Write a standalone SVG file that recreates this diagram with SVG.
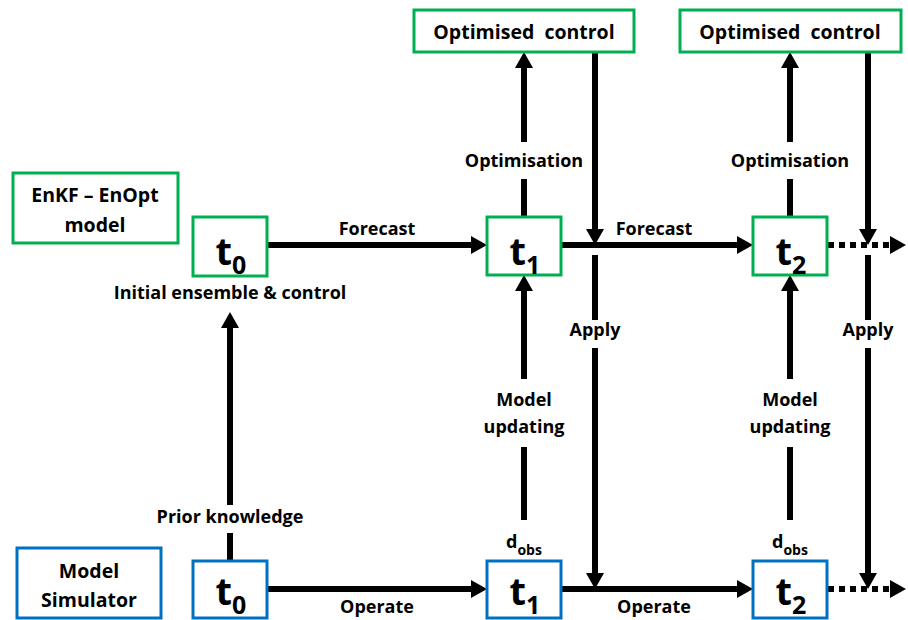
<svg xmlns="http://www.w3.org/2000/svg" width="908" height="620" viewBox="0 0 908 620">
<defs>
<marker id="ah" viewBox="0 -9 16 18" refX="0" refY="0" markerWidth="16" markerHeight="18" markerUnits="userSpaceOnUse" orient="auto">
<path d="M0,-9 L16,0 L0,9 z" fill="#000"/>
</marker>
</defs>
<style>
text{font-family:"Open Sans","Liberation Sans",sans-serif;font-weight:bold;fill:#000;text-anchor:middle}
.g{fill:#fff;stroke:#00B050;stroke-width:3}
.b{fill:#fff;stroke:#0070C0;stroke-width:3}
.h{font-size:19.5px}
.l{font-size:18px}
.t{font-size:38px}
.s{font-size:25px}
.ss{font-size:14px}
.c line{stroke:#000;stroke-width:6}
.a{marker-end:url(#ah)}
.d{stroke-dasharray:6 5}
</style>
<rect width="908" height="620" fill="#fff"/>
<g class="c" id="connectors">
<line class="a" x1="267" y1="245" x2="471" y2="245"/>
<line class="a" x1="561" y1="245" x2="737" y2="245"/>
<line class="a d" x1="828" y1="245" x2="890" y2="245"/>
<line class="a" x1="267" y1="589" x2="471" y2="589"/>
<line class="a" x1="561" y1="589" x2="737" y2="589"/>
<line class="a d" x1="828" y1="589" x2="890" y2="589"/>
<line x1="524" y1="217" x2="524" y2="179"/>
<line class="a" x1="524" y1="142" x2="524" y2="68"/>
<line x1="790" y1="217" x2="790" y2="179"/>
<line class="a" x1="790" y1="142" x2="790" y2="68"/>
<line x1="524" y1="520" x2="524" y2="447"/>
<line class="a" x1="524" y1="379" x2="524" y2="291"/>
<line x1="790" y1="520" x2="790" y2="447"/>
<line class="a" x1="790" y1="379" x2="790" y2="291"/>
<line class="a" x1="595" y1="52" x2="595" y2="229"/>
<line x1="595" y1="255" x2="595" y2="320"/>
<line class="a" x1="595" y1="348" x2="595" y2="573"/>
<line class="a" x1="868" y1="52" x2="868" y2="229"/>
<line x1="868" y1="255" x2="868" y2="320"/>
<line class="a" x1="868" y1="348" x2="868" y2="573"/>
<line x1="230" y1="560" x2="230" y2="533"/>
<line class="a" x1="230" y1="505" x2="230" y2="328"/>
</g>
<g id="labels">
<text class="l" x="377" y="235">Forecast</text>
<text class="l" x="654" y="235">Forecast</text>
<text class="l" x="377" y="613">Operate</text>
<text class="l" x="654" y="613">Operate</text>
<text class="l" x="524" y="167">Optimisation</text>
<text class="l" x="790" y="167">Optimisation</text>
<text class="l" x="595" y="336">Apply</text>
<text class="l" x="868" y="336">Apply</text>
<text class="l" x="524" y="406">Model</text>
<text class="l" x="524" y="433">updating</text>
<text class="l" x="790" y="406">Model</text>
<text class="l" x="790" y="433">updating</text>
<text class="l" x="524" y="548">d<tspan class="ss" dy="7">obs</tspan></text>
<text class="l" x="790" y="548">d<tspan class="ss" dy="7">obs</tspan></text>
<text class="l" x="230" y="523">Prior knowledge</text>
<text class="l" x="230" y="299">Initial ensemble &amp; control</text>
</g>
<g id="enkf-model">
<rect class="g" x="13" y="173" width="165" height="70"/>
<text class="h" x="95" y="202">EnKF – EnOpt</text>
<text class="h" x="95" y="232">model</text>
</g>
<g id="model-simulator">
<rect class="b" x="17" y="548" width="144" height="70"/>
<text class="h" x="89" y="578">Model</text>
<text class="h" x="89" y="607">Simulator</text>
</g>
<g id="opt1">
<rect class="g" x="414" y="10" width="220" height="42"/>
<text class="h" x="524" y="39" xml:space="preserve">Optimised  control</text>
</g>
<g id="opt2">
<rect class="g" x="680" y="10" width="221" height="42"/>
<text class="h" x="790" y="39" xml:space="preserve">Optimised  control</text>
</g>
<g id="g-t0">
<rect class="g" x="193" y="217" width="74" height="59"/>
<text class="t" x="231" y="265">t<tspan class="s" dy="9">0</tspan></text>
</g>
<g id="g-t1">
<rect class="g" x="487" y="217" width="74" height="58"/>
<text class="t" x="525" y="265">t<tspan class="s" dy="9">1</tspan></text>
</g>
<g id="g-t2">
<rect class="g" x="753" y="217" width="74" height="58"/>
<text class="t" x="791" y="265">t<tspan class="s" dy="9">2</tspan></text>
</g>
<g id="b-t0">
<rect class="b" x="193" y="561" width="74" height="57"/>
<text class="t" x="231" y="605">t<tspan class="s" dy="9">0</tspan></text>
</g>
<g id="b-t1">
<rect class="b" x="487" y="561" width="74" height="57"/>
<text class="t" x="525" y="605">t<tspan class="s" dy="9">1</tspan></text>
</g>
<g id="b-t2">
<rect class="b" x="753" y="561" width="74" height="57"/>
<text class="t" x="791" y="605">t<tspan class="s" dy="9">2</tspan></text>
</g>
</svg>
